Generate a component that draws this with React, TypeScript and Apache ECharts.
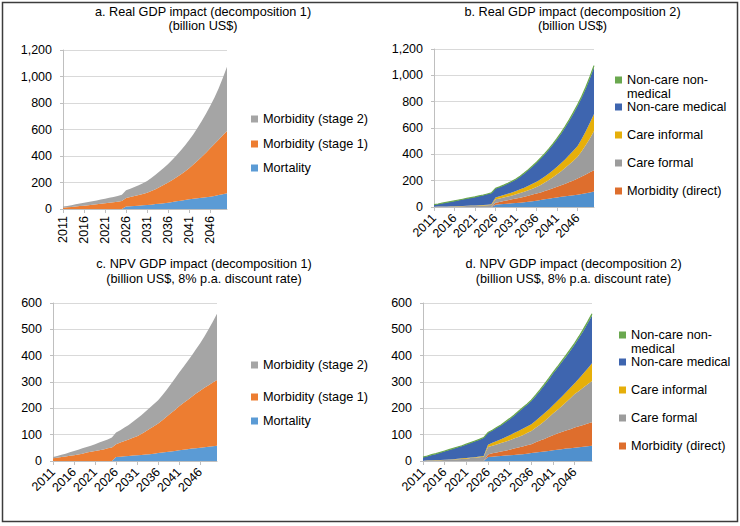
import React, { useEffect, useRef } from "react";
import * as echarts from "echarts";

const years = [
  "2011", "2012", "2013", "2014", "2015", "2016", "2017", "2018", "2019", "2020",
  "2021", "2022", "2023", "2024", "2025", "2026", "2027", "2028", "2029", "2030",
  "2031", "2032", "2033", "2034", "2035", "2036", "2037", "2038", "2039", "2040",
  "2041", "2042", "2043", "2044", "2045", "2046", "2047", "2048", "2049", "2050",
];

// a. Real GDP impact (decomposition 1), billion US$
const aMortality = [
  0, 0, 0, 0, 0, 0, 0, 0, 0, 0, 0, 0, 0, 0, 0,
  18, 20, 23, 25, 28, 30, 33, 37, 40, 44, 48, 53, 58, 63, 68,
  73, 77, 81, 85, 89, 93, 99, 105, 111, 118,
];
const aStage1 = [
  10, 13, 16, 19, 22, 25, 29, 32, 36, 39, 43, 47, 51, 55, 60,
  65, 70, 75, 81, 86, 93, 103, 113, 126, 139, 152, 166, 181, 197, 215,
  234, 258, 283, 309, 336, 365, 391, 418, 445, 471,
];
const aStage2 = [
  8, 10, 13, 16, 19, 22, 24, 27, 29, 32, 34, 37, 40, 44, 47,
  59, 63, 68, 74, 81, 89, 98, 108, 118, 128, 140, 153, 166, 181, 197,
  214, 230, 249, 270, 294, 319, 350, 387, 432, 485,
];

// b. Real GDP impact (decomposition 2), billion US$
const bMortality = aMortality;
const bDirect = [
  0, 0, 0, 0, 0, 0, 0, 0, 0, 0, 0, 0, 0, 0, 0,
  14, 18, 22, 26, 30, 34, 38, 41, 46, 50, 54, 58, 63, 68, 74,
  80, 88, 96, 104, 113, 123, 132, 142, 152, 162,
];
const bCareFormal = [
  1, 2, 2, 3, 3, 4, 5, 6, 7, 8, 9, 10, 12, 13, 15,
  26, 27, 28, 29, 30, 33, 35, 38, 41, 45, 50, 57, 65, 74, 84,
  96, 107, 121, 135, 150, 165, 193, 223, 258, 297,
];
const bCareInformal = [
  1, 1, 1, 1, 2, 2, 2, 2, 3, 3, 3, 4, 4, 5, 5,
  15, 16, 18, 20, 23, 25, 28, 31, 34, 37, 39, 43, 46, 50, 53,
  56, 62, 65, 72, 77, 82, 93, 106, 118, 130,
];
const bNonCareMedical = [
  15, 19, 25, 30, 35, 40, 45, 50, 54, 59, 64, 69, 74, 80, 86,
  67, 70, 73, 78, 82, 87, 97, 108, 120, 131, 145, 157, 168, 181, 196,
  210, 225, 243, 261, 282, 306, 314, 324, 339, 355,
];
const bNonCareNonMedical = [
  1, 1, 1, 1, 1, 1, 1, 1, 1, 1, 1, 1, 1, 1, 1,
  2, 2, 2, 2, 2, 3, 3, 3, 3, 4, 4, 4, 5, 5, 5,
  6, 6, 7, 7, 8, 8, 9, 10, 10, 12,
];

// c. NPV GDP impact (decomposition 1), billion US$, 8% p.a. discount rate
const cMortality = [
  0, 0, 0, 0, 0, 0, 0, 0, 0, 0, 0, 0, 0, 0, 0,
  15, 16, 18, 19, 21, 22, 23, 25, 26, 28, 30, 32, 34, 36, 38,
  41, 43, 45, 47, 48, 50, 52, 54, 56, 58,
];
const cStage1 = [
  10, 12, 15, 17, 20, 22, 25, 28, 32, 35, 38, 41, 44, 48, 51,
  49, 54, 58, 63, 67, 72, 80, 87, 96, 104, 112, 123, 134, 145, 156,
  167, 177, 187, 197, 208, 217, 226, 234, 242, 250,
];
const cStage2 = [
  5, 7, 9, 11, 13, 16, 18, 20, 21, 23, 26, 29, 32, 34, 38,
  44, 47, 51, 55, 61, 67, 71, 76, 80, 84, 89, 95, 102, 110, 119,
  128, 137, 147, 157, 168, 180, 195, 212, 231, 251,
];

// d. NPV GDP impact (decomposition 2), billion US$, 8% p.a. discount rate
const dMortality = cMortality;
const dDirect = [
  0, 0, 0, 0, 0, 0, 0, 0, 0, 0, 0, 0, 0, 0, 0,
  10, 13, 14, 17, 18, 21, 24, 26, 29, 32, 34, 39, 44, 48, 53,
  57, 61, 65, 69, 73, 77, 80, 83, 86, 89,
];
const dCareFormal = [
  1, 2, 2, 3, 3, 4, 5, 6, 7, 8, 9, 11, 12, 14, 16,
  28, 29, 31, 32, 34, 36, 38, 40, 43, 46, 50, 55, 60, 67, 74,
  82, 90, 98, 107, 117, 127, 134, 142, 149, 157,
];
const dCareInformal = [
  0, 1, 1, 1, 1, 1, 1, 1, 2, 2, 2, 2, 2, 3, 3,
  9, 11, 13, 15, 17, 19, 21, 23, 24, 25, 26, 27, 29, 30, 31,
  32, 34, 36, 38, 40, 41, 47, 53, 60, 67,
];
const dNonCareMedical = [
  13, 15, 20, 23, 28, 32, 36, 40, 43, 47, 52, 56, 61, 64, 69,
  45, 47, 50, 53, 57, 61, 66, 72, 78, 83, 88, 94, 100, 107, 113,
  120, 125, 131, 135, 141, 147, 155, 162, 172, 182,
];
const dNonCareNonMedical = [
  1, 1, 1, 1, 1, 1, 1, 1, 1, 1, 1, 1, 1, 1, 1,
  1, 1, 1, 1, 2, 2, 2, 2, 2, 2, 3, 3, 3, 3, 4,
  4, 4, 4, 5, 5, 5, 5, 6, 6, 6,
];

const FONT = "'Liberation Sans', Arial, sans-serif";
const AXIS = "#bfbfbf";
const GRID = "#d9d9d9";

const COL = {
  mort1: "#5B9BD5",
  st1: "#ED7D31",
  st2: "#A5A5A5",
  mort2: "#5090CD",
  direct: "#DE6E2D",
  formal: "#9C9C9C",
  informal: "#E6AF0A",
  ncm: "#3E65AF",
  ncnm: "#6AA84F",
};

// square marker on the first line of a two-line legend entry
const TOP_SQUARE_ICON = "path://M0,0L7,0L7,7L0,7ZM0,21L7,21";

function area(name: string, data: number[], color: string, idx: number, line = false) {
  return {
    type: "line",
    name,
    data,
    xAxisIndex: idx,
    yAxisIndex: idx,
    stack: "s" + idx,
    symbol: "none",
    showSymbol: false,
    silent: true,
    lineStyle: { width: line ? 1.2 : 0, color },
    areaStyle: { color, opacity: 1 },
    itemStyle: { color, borderWidth: 0 },
    emphasis: { disabled: true },
  };
}

function legendItem(name: string, left: number, centerY: number, wrap = false) {
  return {
    data: [name],
    left,
    top: centerY - 7,
    orient: "vertical",
    padding: 0,
    itemWidth: 7,
    itemHeight: wrap ? 21 : 7,
    itemGap: 0,
    icon: wrap ? TOP_SQUARE_ICON : "rect",
    selectedMode: false,
    itemStyle: { borderWidth: 0 },
    formatter: wrap ? () => "Non-care non-\nmedical" : undefined,
    textStyle: {
      fontSize: 12.7,
      fontFamily: FONT,
      color: "#000",
      lineHeight: 14,
    },
  };
}

function xAxis(idx: number, rotate: number) {
  return {
    type: "category",
    gridIndex: idx,
    data: years,
    boundaryGap: false,
    axisLine: { lineStyle: { color: AXIS, width: 1 } },
    axisTick: { show: true, interval: 4, length: 4, lineStyle: { color: AXIS } },
    axisLabel: {
      interval: 4,
      rotate,
      margin: rotate === 90 ? 7 : 9,
      fontSize: 12.5,
      fontFamily: FONT,
      color: "#000",
    },
    splitLine: { show: false },
  };
}

function yAxis(idx: number, max: number, interval: number) {
  return {
    type: "value",
    gridIndex: idx,
    min: 0,
    max,
    interval,
    axisLine: { show: true, lineStyle: { color: AXIS, width: 1 } },
    axisTick: { show: true, length: 3, lineStyle: { color: AXIS } },
    axisLabel: {
      margin: 11,
      fontSize: 12.5,
      fontFamily: FONT,
      color: "#000",
      formatter: (v: number) => v.toLocaleString("en-US"),
    },
    splitLine: { show: true, lineStyle: { color: GRID, width: 1 } },
  };
}

function titleText(x: number, y: number, text: string) {
  return {
    type: "text",
    x,
    y,
    silent: true,
    style: {
      text,
      align: "center",
      verticalAlign: "top",
      fontSize: 12.7,
      fontFamily: FONT,
      fill: "#000",
      lineHeight: 14.5,
    },
  };
}

export default function App() {
  const ref = useRef<HTMLDivElement>(null);
  useEffect(() => {
    if (!ref.current) return;
    const chart = echarts.init(ref.current, null, { renderer: "svg" });
    const option: any = {
      animation: false,
      backgroundColor: "#ffffff",
      grid: [
        { left: 63, top: 50, width: 164, height: 159 },
        { left: 434, top: 49, width: 160, height: 158 },
        { left: 53, top: 303, width: 164, height: 158 },
        { left: 423, top: 303, width: 169, height: 158 },
      ],
      xAxis: [xAxis(0, 90), xAxis(1, 45), xAxis(2, 45), xAxis(3, 45)],
      yAxis: [yAxis(0, 1200, 200), yAxis(1, 1200, 200), yAxis(2, 600, 100), yAxis(3, 600, 100)],
      legend: [
        legendItem("Morbidity (stage 2)", 251, 119),
        legendItem("Morbidity (stage 1)", 251, 144),
        legendItem("Mortality", 251, 168),
        legendItem("Non-care non-medical", 615, 80, true),
        legendItem("Non-care medical", 615, 107),
        legendItem("Care informal", 615, 135),
        legendItem("Care formal", 615, 163),
        legendItem("Morbidity (direct)", 615, 191),
        legendItem("Morbidity (stage 2)", 251, 365),
        legendItem("Morbidity (stage 1)", 251, 397),
        legendItem("Mortality", 251, 421),
        legendItem("Non-care non-medical", 619, 335, true),
        legendItem("Non-care medical", 619, 362),
        legendItem("Care informal", 619, 390),
        legendItem("Care formal", 619, 418),
        legendItem("Morbidity (direct)", 619, 446),
      ],
      series: [
        area("Mortality", aMortality, COL.mort1, 0),
        area("Morbidity (stage 1)", aStage1, COL.st1, 0),
        area("Morbidity (stage 2)", aStage2, COL.st2, 0),
        area("Mortality (b)", bMortality, COL.mort2, 1),
        area("Morbidity (direct)", bDirect, COL.direct, 1),
        area("Care formal", bCareFormal, COL.formal, 1),
        area("Care informal", bCareInformal, COL.informal, 1),
        area("Non-care medical", bNonCareMedical, COL.ncm, 1),
        area("Non-care non-medical", bNonCareNonMedical, COL.ncnm, 1, true),
        area("Mortality", cMortality, COL.mort1, 2),
        area("Morbidity (stage 1)", cStage1, COL.st1, 2),
        area("Morbidity (stage 2)", cStage2, COL.st2, 2),
        area("Mortality (d)", dMortality, COL.mort2, 3),
        area("Morbidity (direct)", dDirect, COL.direct, 3),
        area("Care formal", dCareFormal, COL.formal, 3),
        area("Care informal", dCareInformal, COL.informal, 3),
        area("Non-care medical", dNonCareMedical, COL.ncm, 3),
        area("Non-care non-medical", dNonCareNonMedical, COL.ncnm, 3, true),
      ],
      graphic: [
        {
          type: "rect",
          silent: true,
          shape: { x: 2.5, y: 2.5, width: 735, height: 519 },
          style: { fill: "none", stroke: "#3c3c3c", lineWidth: 1.5 },
        },
        titleText(203, 4.5, "a. Real GDP impact (decomposition 1)\n(billion US$)"),
        titleText(572.5, 4.5, "b. Real GDP impact (decomposition 2)\n(billion US$)"),
        titleText(204, 257, "c. NPV GDP impact (decomposition 1)\n(billion US$, 8% p.a. discount rate)"),
        titleText(573.5, 257, "d. NPV GDP impact (decomposition 2)\n(billion US$, 8% p.a. discount rate)"),
      ],
    };
    chart.setOption(option);
    return () => chart.dispose();
  }, []);
  return (
    <div
      ref={ref}
      style={{ position: "absolute", left: 0, top: 0, width: 740, height: 526, background: "#fff" }}
    />
  );
}
